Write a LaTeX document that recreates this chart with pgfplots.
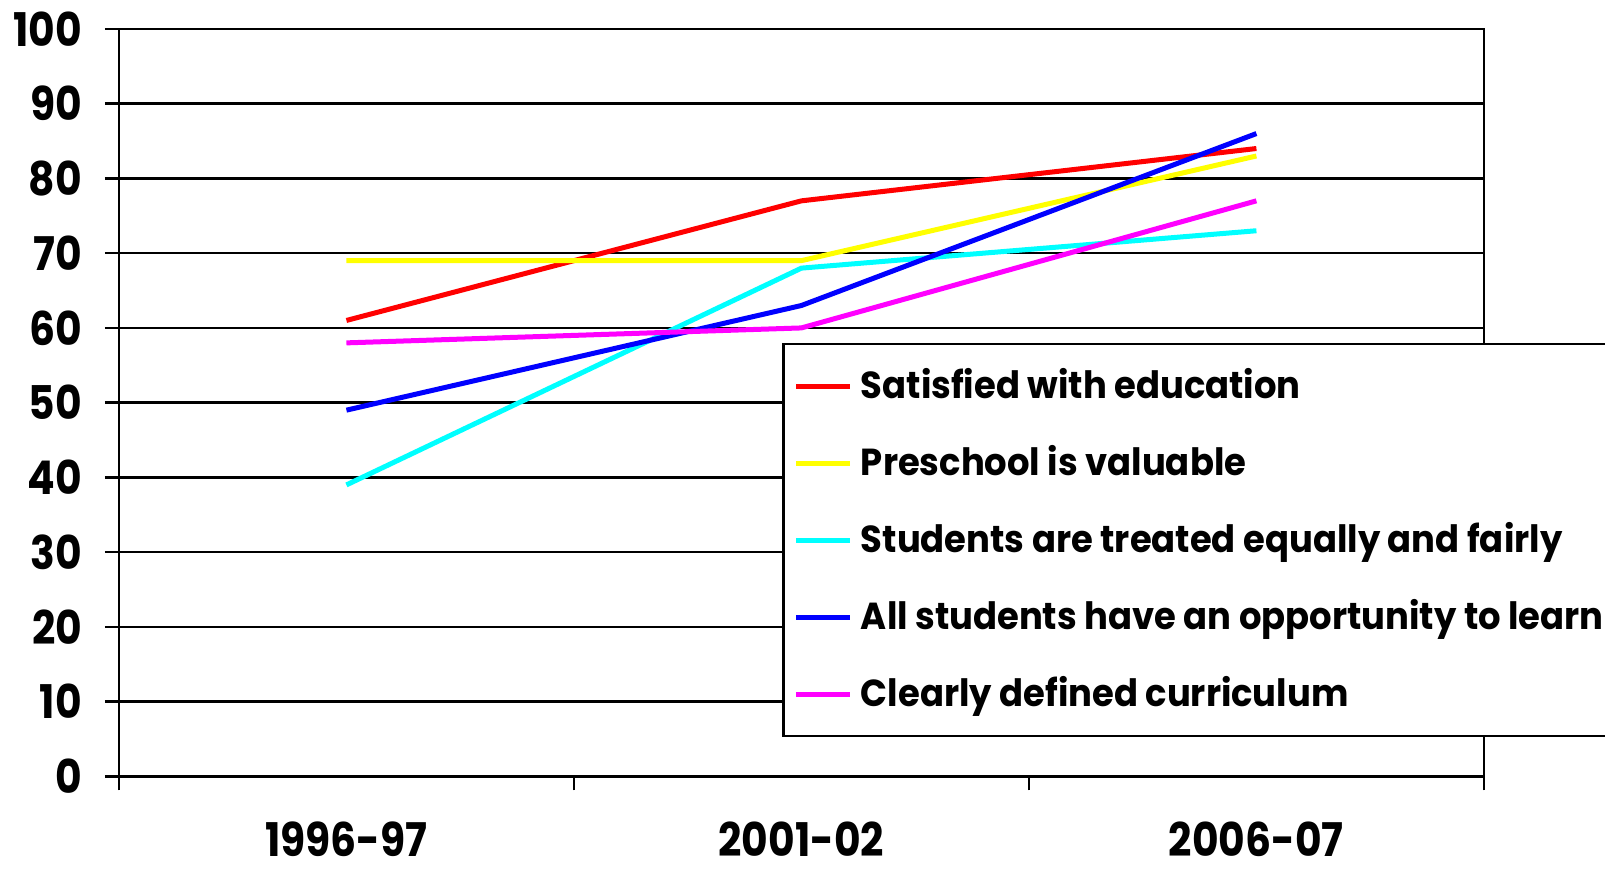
\documentclass[border=0pt]{standalone}
\usepackage{fontspec}
\setmainfont{Poppins}[FakeStretch=0.88]
\newfontfamily\legfont{Poppins}[FakeStretch=0.94]
\usepackage{pgfplots}
\pgfplotsset{compat=1.18}
\definecolor{cRed}{HTML}{FF0000}
\definecolor{cYel}{HTML}{FFFF00}
\definecolor{cCya}{HTML}{00FFFF}
\definecolor{cBlu}{HTML}{0000FF}
\definecolor{cMag}{HTML}{FF00FF}
\begin{document}
\begin{tikzpicture}[trim right=371.25pt]
\begin{axis}[
  scale only axis,
  width=341pt, height=186.75pt,
  xmin=-0.5, xmax=2.5, ymin=0, ymax=100,
  xtick pos=bottom, ytick pos=left,
  xtick={0,1,2},
  xticklabels={1996-97,2001-02,2006-07},
  x tick style={draw=none},
  extra x ticks={-0.5,0.5,1.5,2.5},
  extra x tick labels={},
  extra x tick style={x tick style={draw=black, line width=0.6pt}, major tick length=3.5pt, tick align=outside, grid=none, xtick pos=bottom},
  ytick={0,10,...,100},
  ymajorgrids,
  grid style={black, line width=0.6pt},
  axis line style={black, line width=0.6pt},
  y tick style={black, line width=0.6pt},
  tick align=outside,
  major tick length=3.5pt,
  ticklabel style={font=\fontsize{11.6}{14}\selectfont\bfseries},
  xticklabel style={yshift=-4.3pt},
  yticklabel style={xshift=-2.2pt, inner ysep=2.9pt},
  /pgf/number format/assume math mode=true,
  legend cell align=left,
  legend style={at={(rel axis cs:0.486,0.58)}, anchor=north west,
    draw=black, line width=0.6pt,
    font=\fontsize{9.4}{11.3}\selectfont\legfont\bfseries,
    inner xsep=2.6pt, inner ysep=4pt,
    row sep=6.2pt},
  legend image code/.code={\draw[#1, line width=1.25pt] (0pt,0pt) -- (13.5pt,0pt);},
  every axis plot/.append style={line width=1.25pt, mark=none},
]
\addplot[cRed] coordinates {(0,61) (1,77) (2,84)};
\addlegendentry{Satisfied with education}
\addplot[cYel] coordinates {(0,69) (1,69) (2,83)};
\addlegendentry{Preschool is valuable}
\addplot[cCya] coordinates {(0,39) (1,68) (2,73)};
\addlegendentry{Students are treated equally and fairly}
\addplot[cBlu] coordinates {(0,49) (1,63) (2,86)};
\addlegendentry{All students have an opportunity to learn}
\addplot[cMag] coordinates {(0,58) (1,60) (2,77)};
\addlegendentry{Clearly defined curriculum}
\end{axis}
\end{tikzpicture}
\end{document}
